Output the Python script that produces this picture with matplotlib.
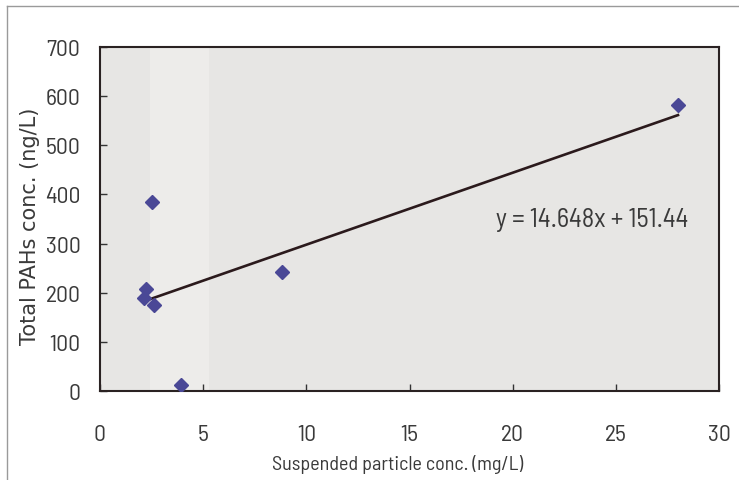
import matplotlib
matplotlib.use("Agg")
import matplotlib.pyplot as plt
import numpy as np

# Data
particle_conc = [2.52, 2.22, 2.15, 2.62, 3.92, 8.83, 28.0]
pah_conc = [385, 207, 189, 175, 13, 243, 582]
slope = 14.648
intercept = 151.44
x_ticks = [0, 5, 10, 15, 20, 25, 30]
y_ticks = [0, 100, 200, 300, 400, 500, 600, 700]
equation = "y = 14.648x + 151.44"
xlabel = "Suspended particle conc. (mg/L)"
ylabel = "Total PAHs conc. (ng/L)"

COND = ["Barlow Semi Condensed", "DejaVu Sans"]
TXT = "#3a3a3a"

fig = plt.figure(figsize=(7.39, 4.81), dpi=100)
fig.patch.set_facecolor("white")
ax = fig.add_axes([0.1353, 0.185, 0.838, 0.715])
ax.set_facecolor("#e7e6e4")
ax.axvspan(2.4, 5.3, color="#edecea", zorder=0, lw=0)

fit_x = np.array([min(particle_conc), max(particle_conc)])
ax.plot(fit_x, slope * fit_x + intercept, color="#2b1a1c", lw=1.9, zorder=2)
ax.plot(particle_conc, pah_conc, linestyle="none", marker="D", ms=7.5,
        color="#4a4896", zorder=3)

ax.set_xlim(0, 30)
ax.set_ylim(0, 700)
ax.set_xticks(x_ticks)
ax.set_yticks(y_ticks)
for lab in ax.get_xticklabels() + ax.get_yticklabels():
    lab.set_fontfamily(COND)
    lab.set_fontsize(17)
    lab.set_color(TXT)
ax.tick_params(axis="y", direction="in", length=5, width=1, pad=14, color="#333333")
ax.tick_params(axis="x", direction="in", length=5, width=1, pad=24, color="#333333")
for s in ax.spines.values():
    s.set_color("#2a2222")
    s.set_linewidth(1.5)

ax.set_xlabel(xlabel, fontsize=14.5, color=TXT, va="center", fontfamily=COND)
ax.set_ylabel(ylabel, fontfamily="DejaVu Sans", fontsize=15, color=TXT, va="center")
ax.xaxis.set_label_coords(0.481, -0.212)
ax.yaxis.set_label_coords(-0.113, 0.483)

ax.text(23.85, 350, equation, fontsize=19, color=TXT, fontfamily=COND,
        ha="center", va="center")

# figure frame lines (left and top)
fig.add_artist(plt.Line2D([7/739, 7/739], [0, 1 - 7/481], transform=fig.transFigure,
                          color="#9a9a9a", lw=1))
fig.add_artist(plt.Line2D([7/739, 1], [1 - 7/481, 1 - 7/481], transform=fig.transFigure,
                          color="#9a9a9a", lw=1))

fig.savefig("out.png", dpi=100)
